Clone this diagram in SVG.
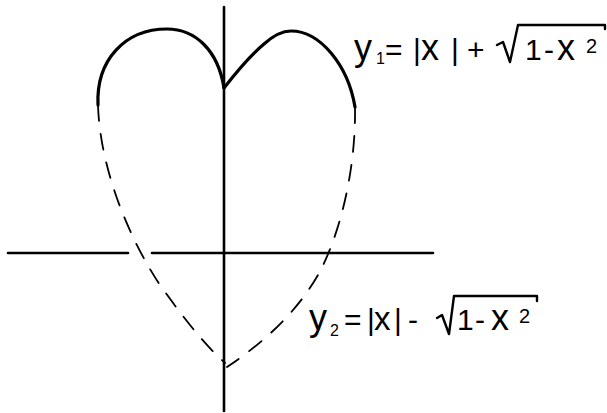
<svg xmlns="http://www.w3.org/2000/svg" width="607" height="413" viewBox="0 0 607 413">
  <style>
    .axis { stroke: #000; stroke-width: 2.6; fill: none; stroke-linecap: round; }
    .solid { stroke: #000; stroke-width: 3.2; fill: none; stroke-linecap: round; stroke-linejoin: round; }
    .dash { stroke: #000; stroke-width: 1.8; fill: none; stroke-linecap: round; stroke-dasharray: 16 13; }
    .eq { font-family: "Liberation Sans", "DejaVu Sans", sans-serif; font-size: 30px; fill: #000; }
    .big { font-size: 36px; }
    .mid { font-size: 33px; }
    .sub { font-size: 16px; }
    .sup { font-size: 20px; }
    .rad { stroke: #000; stroke-width: 2.4; fill: none; stroke-linecap: round; stroke-linejoin: round; }
  </style>
  <rect width="607" height="413" fill="#fff"/>
  <g id="axes">
    <line class="axis" x1="224" y1="7" x2="224" y2="411"/>
    <line class="axis" x1="8" y1="253" x2="128" y2="253"/>
    <line class="axis" x1="152" y1="253" x2="433" y2="253"/>
  </g>
  <g id="upper-curve">
    <path class="solid" d="M98,105 C96,60 125,29 167,29 C195,29 218,50 224,88"/>
    <path class="solid" d="M224,88 C238,70 252,54 264,44 C274,35 282,31 291,31 C320,31 348,65 355,107"/>
  </g>
  <g id="lower-curve">
    <path class="dash" d="M98,105 C100,170 130,240 160,285 C185,320 205,345 225,363"/>
    <path class="dash" d="M355,107 C356,170 340,235 318,275 C295,315 260,345 227,367"/>
  </g>
  <g id="label-y1">
    <text class="eq" y="60"><tspan class="big" x="354">y</tspan><tspan class="sub" x="376" y="64">1</tspan><tspan x="385" y="60">=</tspan><tspan x="413">|</tspan><tspan class="big" x="421">x</tspan><tspan x="451">|</tspan><tspan x="467">+</tspan><tspan x="525">1</tspan><tspan x="544">-</tspan><tspan class="big" x="557">x</tspan><tspan class="sup" x="586" y="53">2</tspan></text>
    <path class="rad" d="M497,45 L503,42 L510,62 L518,25 L605,25 L605,29"/>
  </g>
  <g id="label-y2">
    <text class="eq" y="330"><tspan class="big" x="309">y</tspan><tspan class="sub" x="330" y="336">2</tspan><tspan x="344" y="330">=</tspan><tspan x="367">|</tspan><tspan class="mid" x="374">x</tspan><tspan x="394">|</tspan><tspan x="408">-</tspan><tspan x="457">1</tspan><tspan x="475">-</tspan><tspan class="big" x="491">x</tspan><tspan class="sup" x="519" y="323">2</tspan></text>
    <path class="rad" d="M437,318 L442,315 L449,334 L454,296 L537,296 L537,301"/>
  </g>
</svg>
